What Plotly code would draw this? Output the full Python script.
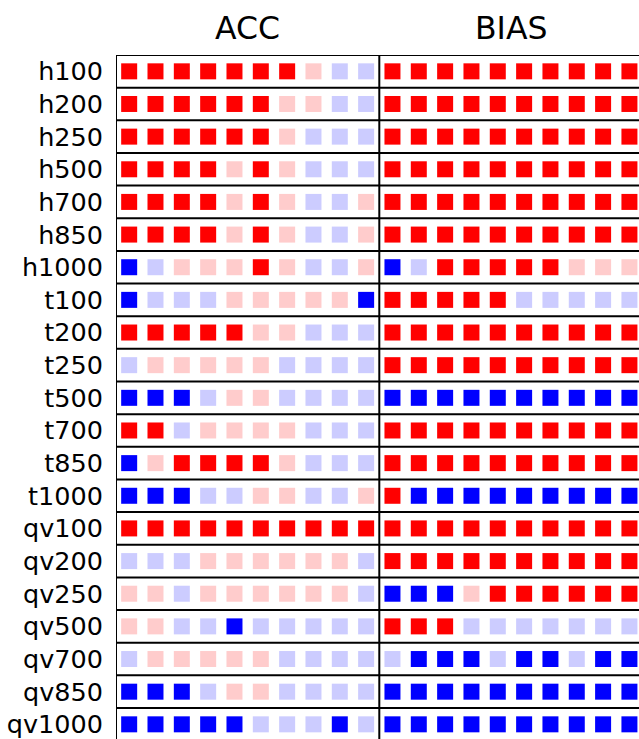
import plotly.graph_objects as go

rows = ["h100", "h200", "h250", "h500", "h700", "h850", "h1000",
        "t100", "t200", "t250", "t500", "t700", "t850", "t1000",
        "qv100", "qv200", "qv250", "qv500", "qv700", "qv850", "qv1000"]
panels = ["ACC", "BIAS"]
n_cols = 10

# 2 = strong better (red), 1 = slightly better, -1 = slightly worse, -2 = strong worse (blue)
acc = [
    [2, 2, 2, 2, 2, 2, 2, 1, -1, -1],
    [2, 2, 2, 2, 2, 2, 1, 1, -1, -1],
    [2, 2, 2, 2, 2, 2, 1, -1, -1, -1],
    [2, 2, 2, 2, 1, 2, 1, -1, -1, -1],
    [2, 2, 2, 2, 1, 2, 1, -1, -1, 1],
    [2, 2, 2, 2, 1, 2, 1, -1, -1, 1],
    [-2, -1, 1, 1, 1, 2, 1, -1, -1, 1],
    [-2, -1, -1, -1, 1, 1, 1, 1, 1, -2],
    [2, 2, 2, 2, 2, 1, 1, -1, -1, -1],
    [-1, 1, 1, 1, 1, 1, -1, -1, -1, -1],
    [-2, -2, -2, -1, 1, 1, -1, -1, -1, -1],
    [2, 2, -1, 1, 1, 1, 1, -1, -1, -1],
    [-2, 1, 2, 2, 2, 2, 1, -1, -1, -1],
    [-2, -2, -2, -1, -1, 1, 1, -1, -1, 1],
    [2, 2, 2, 2, 2, 2, 2, 2, 2, 2],
    [-1, -1, -1, 1, 1, 1, 1, 1, 1, -1],
    [1, 1, -1, 1, 1, 1, 1, 1, 1, -1],
    [1, 1, -1, -1, -2, -1, -1, -1, -1, -1],
    [-1, 1, 1, 1, 1, 1, -1, -1, -1, -1],
    [-2, -2, -2, -1, 1, 1, -1, -1, -1, -1],
    [-2, -2, -2, -2, -2, -1, -1, -1, -2, -1],
]

bias = [
    [2, 2, 2, 2, 2, 2, 2, 2, 2, 2],
    [2, 2, 2, 2, 2, 2, 2, 2, 2, 2],
    [2, 2, 2, 2, 2, 2, 2, 2, 2, 2],
    [2, 2, 2, 2, 2, 2, 2, 2, 2, 2],
    [2, 2, 2, 2, 2, 2, 2, 2, 2, 2],
    [2, 2, 2, 2, 2, 2, 2, 2, 2, 2],
    [-2, -1, 2, 2, 2, 2, 2, 1, 1, 1],
    [2, 2, 2, 2, 2, -1, -1, -1, -1, -1],
    [2, 2, 2, 2, 2, 2, 2, 2, 2, 2],
    [2, 2, 2, 2, 2, 2, 2, 2, 2, 2],
    [-2, -2, -2, -2, -2, -2, -2, -2, -2, -2],
    [2, 2, 2, 2, 2, 2, 2, 2, 2, 2],
    [2, 2, 2, 2, 2, 2, 2, 2, 2, 2],
    [2, -2, -2, -2, -2, -2, -2, -2, -2, -2],
    [2, 2, 2, 2, 2, 2, 2, 2, 2, 2],
    [2, 2, 2, 2, 2, 2, 2, 2, 2, 2],
    [-2, -2, -2, 1, 2, 2, 2, 2, 2, 2],
    [2, 2, 2, -1, -1, -1, -1, -1, -1, -1],
    [-1, -2, -2, -2, -1, -2, -2, -1, -2, -2],
    [-2, -2, -2, -2, -2, -2, -2, -2, -2, -2],
    [-2, -2, -2, -2, -2, -2, -2, -2, -2, -2],
]

color_map = {2: "#ff0000", 1: "#ffcccc", -1: "#ccccff", -2: "#0000ff"}

W, H = 639, 739
ml, mt = 116, 55
col_px = 26.33
row_px = 32.65
plot_w = W - ml
plot_h = H - mt

fig = go.Figure()
for p, data in enumerate([acc, bias]):
    xs, ys, cs = [], [], []
    for i, row in enumerate(data):
        for j, v in enumerate(row):
            xs.append(p * n_cols + j)
            ys.append(i)
            cs.append(color_map[v])
    fig.add_trace(go.Scatter(
        x=xs, y=ys, mode="markers",
        marker=dict(symbol="square", size=16, color=cs, line=dict(width=0)),
        showlegend=False, hoverinfo="skip", cliponaxis=True,
    ))

shapes = []
for i in range(len(rows) + 1):
    shapes.append(dict(type="line", xref="paper", x0=0, x1=1, yref="y",
                       y0=i - 0.5, y1=i - 0.5, line=dict(color="black", width=2)))
shapes.append(dict(type="line", xref="x", x0=n_cols - 0.5, x1=n_cols - 0.5,
                   yref="paper", y0=0, y1=1, line=dict(color="black", width=2)))
shapes.append(dict(type="line", xref="x", x0=-0.5, x1=-0.5,
                   yref="paper", y0=0, y1=1, line=dict(color="black", width=2)))

annotations = []
for p, name in enumerate(panels):
    annotations.append(dict(text=name, xref="x", x=p * n_cols + (n_cols - 1) / 2,
                            yref="paper", y=1 + 27 / plot_h, yanchor="middle",
                            xanchor="center", showarrow=False,
                            font=dict(size=31.5, color="black", family="DejaVu Sans")))

fig.update_layout(
    width=W, height=H,
    margin=dict(l=ml, r=0, t=mt, b=0, pad=0),
    paper_bgcolor="white", plot_bgcolor="white",
    font=dict(family="DejaVu Sans", color="black"),
    shapes=shapes, annotations=annotations,
    xaxis=dict(range=[-0.5, -0.5 + plot_w / col_px], showgrid=False, zeroline=False,
               showticklabels=False, ticks=""),
    yaxis=dict(range=[-0.5 + plot_h / row_px, -0.5], showgrid=False, zeroline=False,
               tickvals=list(range(len(rows))), ticktext=rows, ticks="",
               tickfont=dict(size=25.5, color="black", family="DejaVu Sans"),
               ticklabelstandoff=12, ticklabeloverflow="allow"),
)

fig.write_html("out.html")
